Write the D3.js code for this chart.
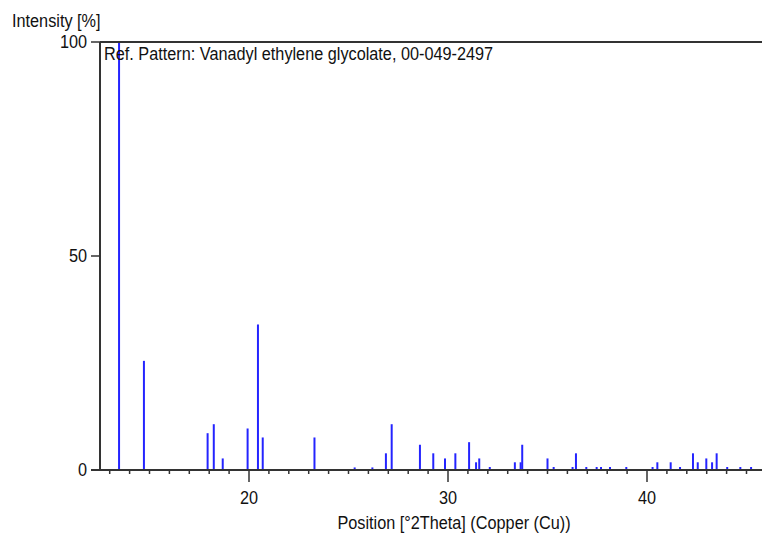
<!DOCTYPE html>
<html><head><meta charset="utf-8">
<script src="https://cdn.jsdelivr.net/npm/d3@7"></script>
<style>
html,body{margin:0;padding:0;background:#fff;}
text{font-family:"Liberation Sans",Arial,sans-serif;fill:#111;}
</style></head>
<body>
<svg id="c" width="762" height="539"></svg>
<script>
const positions = [13.47,14.72,17.92,18.23,18.68,19.93,20.45,20.69,23.29,25.31,26.2,26.88,27.17,28.59,29.26,29.85,30.37,31.06,31.41,31.57,32.1,33.36,33.65,33.73,35.0,35.31,36.26,36.43,36.95,37.47,37.69,38.14,38.96,40.28,40.52,41.19,41.66,42.31,42.55,42.98,43.27,43.5,44.03,44.69,45.23];
const intensities = [100,25.5,8.6,10.7,2.7,9.7,34,7.6,7.6,0.6,0.6,3.9,10.7,5.9,3.9,2.7,3.9,6.5,1.8,2.7,0.7,1.8,1.8,5.9,2.7,0.7,0.7,3.9,0.7,0.7,0.7,0.7,0.7,0.7,1.8,1.8,0.7,3.9,1.8,2.7,1.8,3.9,0.7,0.7,0.7];
const xMajorTicks = [20,30,40];
const yTicks = [0,50,100];
const yTitle = "Intensity [%]";
const xTitle = "Position [°2Theta] (Copper (Cu))";
const refLabel = "Ref. Pattern: Vanadyl ethylene glycolate, 00-049-2497";

const svg = d3.select("#c");
const L = 100, R = 762, T = 42, B = 470;
const x = d3.scaleLinear().domain([20,40]).range([249,647]);
const y = d3.scaleLinear().domain([0,100]).range([B,T]);
const axisColor = "#333";
const FS = 17.5, SX = 0.93;

function label(px, py, txt, anchor){
  return svg.append("text")
    .attr("transform", `translate(${px},${py}) scale(${SX},1)`)
    .attr("text-anchor", anchor || "start")
    .attr("font-size", FS).text(txt);
}

// minor ticks
const minor = d3.range(13,46).filter(v => !xMajorTicks.includes(v));
const gx = svg.append("g");
gx.selectAll("line.mi").data(minor).enter().append("line")
  .attr("x1",d=>x(d)).attr("x2",d=>x(d)).attr("y1",B).attr("y2",B+4)
  .attr("stroke",axisColor).attr("stroke-width",1.5);
gx.selectAll("line.ma").data(xMajorTicks).enter().append("line")
  .attr("x1",d=>x(d)).attr("x2",d=>x(d)).attr("y1",B).attr("y2",B+12)
  .attr("stroke",axisColor).attr("stroke-width",1.5);
xMajorTicks.forEach(d => label(x(d), 504, d, "middle"));

// y ticks
const gy = svg.append("g");
gy.selectAll("line").data(yTicks).enter().append("line")
  .attr("x1",91).attr("x2",L).attr("y1",d=>y(d)).attr("y2",d=>y(d))
  .attr("stroke",axisColor).attr("stroke-width",1.5);
yTicks.forEach(d => label(87, y(d)+6, d, "end"));

// peaks
svg.append("g").selectAll("line").data(positions).enter().append("line")
  .attr("x1",(d)=>x(d)).attr("x2",(d)=>x(d))
  .attr("y1",B).attr("y2",(d,i)=>y(intensities[i]))
  .attr("stroke","#2424ff").attr("stroke-width",2);

// frame
svg.append("line").attr("x1",L).attr("x2",L).attr("y1",T).attr("y2",B)
  .attr("stroke",axisColor).attr("stroke-width",2);
svg.append("line").attr("x1",L).attr("x2",R).attr("y1",T).attr("y2",T)
  .attr("stroke",axisColor).attr("stroke-width",2);
svg.append("line").attr("x1",91).attr("x2",R).attr("y1",B).attr("y2",B)
  .attr("stroke",axisColor).attr("stroke-width",2);

label(12, 27, yTitle);
label(104, 60, refLabel);
label(454, 529, xTitle, "middle");
</script>
</body></html>
